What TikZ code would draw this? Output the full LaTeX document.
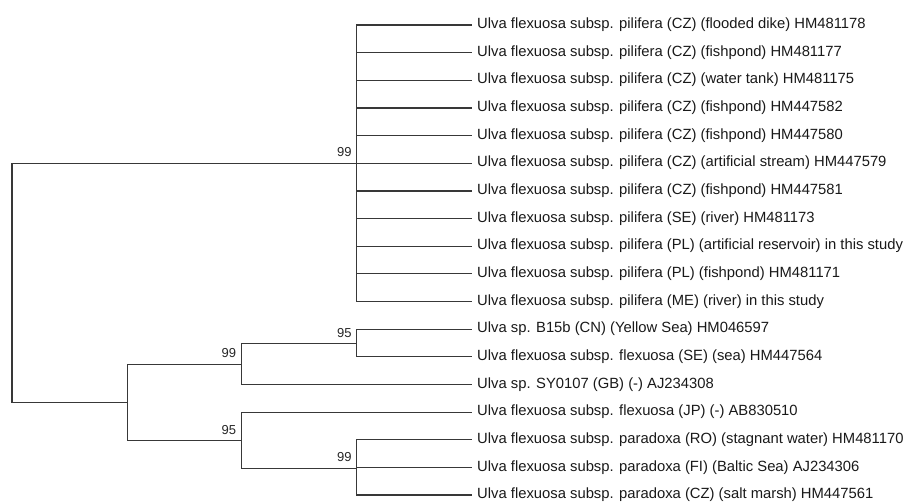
\documentclass[tikz,border=0pt]{standalone}
\usepackage{fontspec}
\setmainfont{Liberation Sans}
\usetikzlibrary{positioning}
\tikzset{
 branch/.style={draw=black!78,line width=1.2pt},
 leaf/.style={anchor=base west,inner sep=0pt,text=black!90,
  font=\fontsize{14.8}{17}\selectfont},
 boot/.style={anchor=base east,inner sep=0pt,xshift=-5pt,yshift=6.5pt,
  text=black!85,font=\fontsize{13}{15}\selectfont}
}

\begin{document}
\begin{tikzpicture}[x=1pt,y=-1pt]
 \useasboundingbox (0,0) rectangle (906,503);
 % leaves
 \foreach \t [count=\i] in {
  {Ulva flexuosa subsp. pilifera (CZ) (flooded dike) HM481178},
  {Ulva flexuosa subsp. pilifera (CZ) (fishpond) HM481177},
  {Ulva flexuosa subsp. pilifera (CZ) (water tank) HM481175},
  {Ulva flexuosa subsp. pilifera (CZ) (fishpond) HM447582},
  {Ulva flexuosa subsp. pilifera (CZ) (fishpond) HM447580},
  {Ulva flexuosa subsp. pilifera (CZ) (artificial stream) HM447579},
  {Ulva flexuosa subsp. pilifera (CZ) (fishpond) HM447581},
  {Ulva flexuosa subsp. pilifera (SE) (river) HM481173},
  {Ulva flexuosa subsp. pilifera (PL) (artificial reservoir) in this study},
  {Ulva flexuosa subsp. pilifera (PL) (fishpond) HM481171},
  {Ulva flexuosa subsp. pilifera (ME) (river) in this study},
  {Ulva sp. B15b (CN) (Yellow Sea) HM046597},
  {Ulva flexuosa subsp. flexuosa (SE) (sea) HM447564},
  {Ulva sp. SY0107 (GB) (-) AJ234308},
  {Ulva flexuosa subsp. flexuosa (JP) (-) AB830510},
  {Ulva flexuosa subsp. paradoxa (RO) (stagnant water) HM481170},
  {Ulva flexuosa subsp. paradoxa (FI) (Baltic Sea) AJ234306},
  {Ulva flexuosa subsp. paradoxa (CZ) (salt marsh) HM447561}}{
  \coordinate (t\i) at (472,{25+27.65*(\i-1)});
  \node[leaf] (l\i) at (477,{28.6+27.65*(\i-1)}) {\t};
 }
 % internal nodes
 \coordinate (root) at (12,283);
 \coordinate (pil) at (356.7,163.3);
 \coordinate (nA) at (127.3,402.4);
 \coordinate (nB) at (241.3,364.2);
 \coordinate (nC) at (356.7,343.5);
 \coordinate (nD) at (241.3,440.6);
 \coordinate (nE) at (356.7,468.3);
 % branches
 \foreach \i in {1,...,11} \draw[branch] (pil) |- (t\i);
 \draw[branch] (root) |- (pil) (root) |- (nA);
 \draw[branch] (nA) |- (nB) (nA) |- (nD);
 \draw[branch] (nB) |- (nC) (nB) |- (t14);
 \draw[branch] (nC) |- (t12) (nC) |- (t13);
 \draw[branch] (nD) |- (t15) (nD) |- (nE);
 \draw[branch] (nE) |- (t16) (nE) |- (t17) (nE) |- (t18);
 % bootstrap values
 \node[boot] (bpil) at (pil) {99};
 \node[boot] (bB) at (nB) {99};
 \node[boot] (bC) at (nC) {95};
 \node[boot] (bD) at (nD) {95};
 \node[boot] (bE) at (nE) {99};
\end{tikzpicture}
\end{document}
